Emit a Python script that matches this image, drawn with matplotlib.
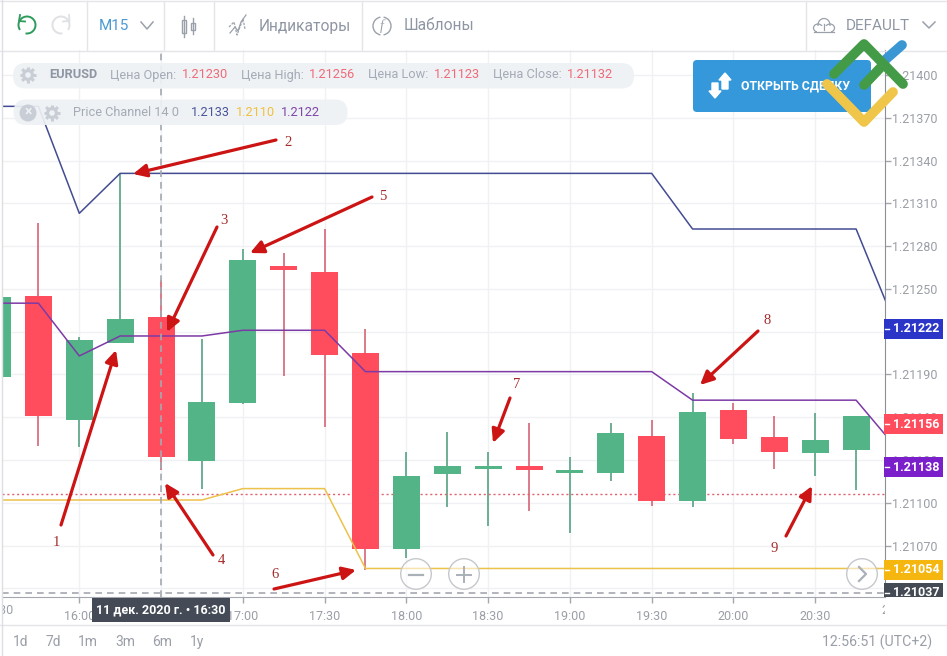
import math
import matplotlib
matplotlib.use('Agg')
import matplotlib.pyplot as plt
from matplotlib.patches import Rectangle, Circle, FancyBboxPatch, Arc, Polygon, Ellipse
from matplotlib.transforms import Bbox

plt.rcParams['font.family'] = ['Roboto', 'DejaVu Sans']

W, H = 947, 656

# bougies M15, EURUSD 11 dec 2020
candle_times = ['15:30', '15:45', '16:00', '16:15', '16:30', '16:45', '17:00', '17:15', '17:30', '17:45', '18:00',
                '18:15', '18:30', '18:45', '19:00', '19:15', '19:30', '19:45', '20:00', '20:15', '20:30', '20:45']
opens = [1.21188, 1.21245, 1.21158, 1.21212, 1.21230, 1.21129, 1.21170, 1.21266, 1.21262, 1.21205, 1.21068,
         1.21120, 1.21124, 1.21126, 1.21121, 1.21121, 1.21147, 1.21101, 1.21165, 1.21146, 1.21135, 1.21137]
highs = [1.21244, 1.21296, 1.21216, 1.21331, 1.21256, 1.21215, 1.21278, 1.21275, 1.21292, 1.21222, 1.21136,
         1.21150, 1.21136, 1.21156, 1.21132, 1.21156, 1.21158, 1.21177, 1.21170, 1.21161, 1.21163, 1.21161]
lows = [1.21188, 1.21140, 1.21139, 1.21212, 1.21123, 1.21110, 1.21169, 1.21189, 1.21153, 1.21053, 1.21061,
        1.21097, 1.21084, 1.21094, 1.21079, 1.21115, 1.21098, 1.21097, 1.21141, 1.21124, 1.21119, 1.21109]
closes = [1.21244, 1.21161, 1.21214, 1.21229, 1.21132, 1.21171, 1.21270, 1.21263, 1.21204, 1.21068, 1.21119,
          1.21126, 1.21126, 1.21123, 1.21123, 1.21149, 1.21101, 1.21164, 1.21145, 1.21136, 1.21144, 1.21161]

# price channel (derniere valeur = 21:00)
channel_times = candle_times + ['21:00']
channel_high = [1.21378, 1.21378, 1.21303, 1.21331, 1.21331, 1.21331, 1.21331, 1.21331, 1.21331, 1.21331, 1.21331, 1.21331,
                1.21331, 1.21331, 1.21331, 1.21331, 1.21331, 1.21292, 1.21292, 1.21292, 1.21292, 1.21292, 1.21222]
channel_mid = [1.21240, 1.21240, 1.21203, 1.21217, 1.21217, 1.21217, 1.21221, 1.21221, 1.21221, 1.21192, 1.21192, 1.21192,
               1.21192, 1.21192, 1.21192, 1.21192, 1.21192, 1.21172, 1.21172, 1.21172, 1.21172, 1.21172, 1.21138]
channel_low = [1.21102, 1.21102, 1.21102, 1.21102, 1.21102, 1.21102, 1.21110, 1.21110, 1.21110, 1.21054, 1.21054, 1.21054,
               1.21054, 1.21054, 1.21054, 1.21054, 1.21054, 1.21054, 1.21054, 1.21054, 1.21054, 1.21054, 1.21054]
current_price = 1.21106
cursor_price = 1.21037
cursor_time = '16:30'

y_ticks = [1.21400, 1.21370, 1.21340, 1.21310, 1.21280, 1.21250, 1.21220, 1.21190, 1.21160, 1.21130, 1.21100, 1.21070, 1.21040]
x_ticks = ['16:00', '16:30', '17:00', '17:30', '18:00', '18:30', '19:00', '19:30', '20:00', '20:30']

tag_prices = [1.21222, 1.21155, 1.21125, 1.21053, 1.21037]
tag_labels = ['1.21222', '1.21156', '1.21138', '1.21054', '1.21037']
tag_colors = ['#2b35c8', '#ff4d5e', '#7a1fc9', '#f4b60f', '#444b55']

ranges = ['1d', '7d', '1m', '3m', '6m', '1y']

GREEN, RED = '#52b487', '#ff4d5e'
GREY = '#8f96a3'
ICON = '#9ba1aa'


def minutes(t):
    h, m = t.split(':')
    return (int(h) - 16) * 60 + int(m)


def px_box(x0, y0, x1, y1):
    # boite en pixels (origine en haut) vers display
    return Bbox([[x0, H - y1], [x1, H - y0]])


fig = plt.figure(figsize=(W / 100, H / 100), dpi=100, facecolor='white')

# ---- graphique ----
ax = fig.add_axes([2 / W, 1 - 597 / H, 883 / W, 547 / H])
ax.set_xlim(-28.36, 295.6)
ax.set_ylim(1.21034, 1.214175)
ax.set_axisbelow(True)
ax.grid(True, color='#f0f1f4', lw=1)
for s in ['top', 'left']:
    ax.spines[s].set_visible(False)
ax.spines['right'].set_color('#8a8f98')
ax.spines['bottom'].set_color('#a4a8ae')
ax.yaxis.tick_right()
ax.set_yticks(y_ticks)
ax.set_yticklabels([f'{v:.5f}' for v in y_ticks])
ax.set_xticks([minutes(t) for t in x_ticks])
ax.set_xticklabels(x_ticks)
ax.tick_params(axis='y', length=4, width=1, color='#a4a8ae', labelcolor='#9a9ea6', labelsize=9, pad=1)
ax.tick_params(axis='x', length=4, width=1, color='#a4a8ae', labelcolor='#9a9ea6', labelsize=9, pad=5)

# labels coupes aux deux bords de l'axe
for t in ['15:30', '21:00']:
    lbl = ax.text(minutes(t), 1.21034 - 0.00005, t, ha='center', va='top', fontsize=9, color='#9a9ea6',
                  clip_on=True)
    lbl.set_clip_box(px_box(2, 597, 885, 625))

for t, o, h, l, c in zip(candle_times, opens, highs, lows, closes):
    x = minutes(t)
    up = c >= o
    ax.vlines(x, l, h, color='#62a88c' if up else '#d8707f', lw=1.3, zorder=2)
    ax.bar(x, abs(c - o), bottom=min(o, c), width=9.9, color=GREEN if up else RED, zorder=3)

ch_x = [minutes(t) for t in channel_times]
ax.plot(ch_x, channel_low, color='#ecc24a', lw=1.1, zorder=4)
ax.plot(ch_x, channel_high, color='#434c92', lw=1.1, zorder=4)
ax.plot(ch_x, channel_mid, color='#7c3aa6', lw=1.1, zorder=4)
ax.axhline(current_price, color='#e2606c', lw=1, ls=(0, (1.5, 2)), zorder=2.5)
ax.axvline(minutes(cursor_time), color='#a4a9b0', lw=1.2, ls=(0, (4, 3)), zorder=5)
ax.axhline(cursor_price, color='#a4a9b0', lw=1.2, ls=(0, (4, 3)), zorder=5)

# etiquettes de prix
tr = ax.get_yaxis_transform()
tag_h = 0.00014
for p, s, col in zip(tag_prices, tag_labels, tag_colors):
    r = Rectangle((1 - 1.5 / 883, p - tag_h / 2), 59 / 883, tag_h, transform=tr, facecolor=col, edgecolor='none',
                  clip_on=True, zorder=6)
    ax.add_patch(r)
    r.set_clip_box(px_box(883, 50, 947, 597))
    tx = ax.text(1 + 7.5 / 883, p, s, transform=tr, va='center', ha='left', color='white', fontsize=9,
                 fontweight='bold', zorder=7, clip_on=True)
    tx.set_clip_box(px_box(883, 50, 947, 597))
    ax.plot([1.0, 1 + 4 / 883], [p, p], transform=tr, color='white', lw=1, zorder=7, clip_on=False)

# ---- couche en pixels: barre d'outils, legendes, fleches ----
ui = fig.add_axes([0, 0, 1, 1], facecolor='none')
ui.set_xlim(0, W)
ui.set_ylim(H, 0)
ui.axis('off')


def label(x, y, s, color=GREY, size=9, weight='normal', ha='left', **kw):
    return ui.text(x, y, s, color=color, fontsize=size, fontweight=weight, ha=ha, va='center', **kw)


# cadre et barre du haut
ui.plot([0, W], [1, 1], color='#e3e5e8', lw=1)
ui.plot([0, W], [50.5, 50.5], color='#e3e5e8', lw=1)
ui.plot([0, W], [625, 625], color='#e3e5e8', lw=1)
ui.plot([1.5, 1.5], [0, H], color='#dcdfe3', lw=1)
for x in [87, 164, 214, 361.5, 805.5]:
    ui.plot([x, x], [1, 50], color='#e3e5e8', lw=1)

# annuler / retablir
ui.add_patch(Arc((27, 25), 17, 17, theta1=-215, theta2=100, color='#2e9a5c', lw=1.4))
ui.plot([20, 19, 25], [15, 21, 21.5], color='#2e9a5c', lw=1.3)
ui.add_patch(Arc((61, 25), 17, 17, theta1=80, theta2=395, color='#dfe1e4', lw=1.4))
ui.plot([69, 69.5, 63], [15, 21, 21.5], color='#dfe1e4', lw=1.3)

label(99, 26, 'M15', color='#4a9ad4', size=11)
ui.plot([141, 147, 153], [22, 29, 22], color=ICON, lw=1.1)

# icone bougies
ui.add_patch(Rectangle((181.5, 20), 4, 13, fill=False, edgecolor=ICON, lw=1))
ui.plot([183.5, 183.5], [16, 37], color=ICON, lw=1)
ui.add_patch(Rectangle((191, 23), 4, 7, fill=False, edgecolor=ICON, lw=1))
ui.plot([193, 193], [18, 34], color=ICON, lw=1)

# icone indicateurs
ui.plot([229, 234, 237, 243, 245], [27, 22, 35, 19, 29], color=ICON, lw=0.9, ls=(0, (2, 1)))
ui.plot([230, 235, 238, 241, 246], [33, 27, 31, 22, 15], color=ICON, lw=0.9)
label(259, 26, 'Индикаторы', size=11.2)

# icone f
ui.add_patch(Arc((382, 26), 18, 18, theta1=100, theta2=260, color=ICON, lw=1))
ui.add_patch(Arc((382, 26), 18, 18, theta1=-80, theta2=80, color=ICON, lw=1))
ui.text(382, 26, 'f', color=ICON, fontsize=10, ha='center', va='center', style='italic', family='Liberation Serif')
label(404, 26, 'Шаблоны', size=11.2)

# nuage + DEFAULT
for cx, cy, w, h in [(818, 28, 9, 8), (824, 25, 12, 13), (830, 28, 9, 8)]:
    ui.add_patch(Ellipse((cx, cy), w, h, fill=False, edgecolor=ICON, lw=0.9))
ui.add_patch(Rectangle((817, 25.5), 14, 6, facecolor='white', edgecolor='none'))
ui.plot([814, 834], [32, 32], color=ICON, lw=0.9)
ui.plot([824, 824], [24, 30], color=ICON, lw=0.9)
label(846, 26, 'DEFAULT', size=11)
ui.plot([923, 929, 935], [22, 28, 22], color=ICON, lw=1.1)


def gear(x, y, color='#c9ced6'):
    ui.add_patch(Circle((x, y), 6, facecolor=color, edgecolor='none', zorder=11))
    for k in range(8):
        a = k * math.pi / 4
        ui.plot([x + 5 * math.cos(a), x + 8.3 * math.cos(a)], [y + 5 * math.sin(a), y + 8.3 * math.sin(a)],
                color=color, lw=2.2, solid_capstyle='butt', zorder=11)
    ui.add_patch(Circle((x, y), 2.8, facecolor='#eef1f5', edgecolor='none', zorder=12))


# legendes
ui.add_patch(FancyBboxPatch((25.5, 75.5), 596, 0.5, boxstyle='round,pad=12.5,rounding_size=12.5',
                            facecolor='#eef1f5', edgecolor='none', alpha=0.92, zorder=10))
ui.add_patch(FancyBboxPatch((26, 112), 309, 0.5, boxstyle='round,pad=12.5,rounding_size=12.5',
                            facecolor='#eef1f5', edgecolor='none', alpha=0.92, zorder=10))
gear(28, 75)
ui.add_patch(Circle((28, 113), 8.5, facecolor='#c9ced6', edgecolor='none', zorder=11))
ui.text(28, 112.5, '×', color='#eef1f5', fontsize=10, fontweight='bold', ha='center', va='center', zorder=12)
gear(52, 113)

legend_red = '#ee6a78'
for x, s, col, wgt in [(49, 'EURUSD', GREY, 'bold'), (110, 'Цена Open:', '#a4abb6', 'normal'),
                       (182, '1.21230', legend_red, 'normal'), (241, 'Цена High:', '#a4abb6', 'normal'),
                       (309, '1.21256', legend_red, 'normal'), (368, 'Цена Low:', '#a4abb6', 'normal'),
                       (434, '1.21123', legend_red, 'normal'), (493, 'Цена Close:', '#a4abb6', 'normal'),
                       (567, '1.21132', legend_red, 'normal')]:
    label(x, 75, s, color=col, size=9.2, weight=wgt, zorder=13)
for x, s, col in [(73, 'Price Channel 14 0', '#a4abb6'), (191, '1.2133', '#4a5599'),
                  (236, '1.2110', '#efc13c'), (281, '1.2122', '#7f45a8')]:
    label(x, 113, s, color=col, size=9.2, zorder=13)

# bouton
ui.add_patch(FancyBboxPatch((697, 64), 170, 44, boxstyle='round,pad=4,rounding_size=4', facecolor='#3498db',
                            edgecolor='none', zorder=14))
ui.add_patch(Polygon([[722, 89], [722, 80], [719, 80], [725, 73], [731, 80], [728, 80], [728, 89]], color='white', zorder=15))
ui.add_patch(Polygon([[712, 83], [712, 91], [709, 91], [715, 98], [721, 91], [718, 91], [718, 83]], color='white', zorder=15))
label(741, 86, 'ОТКРЫТЬ СДЕЛКУ', color='white', size=8.8, weight='bold', zorder=15)

# logo
ui.plot([885, 902], [60, 45], color='#3b97d3', lw=7, solid_capstyle='round', zorder=16)
ui.plot([834, 864, 903], [74, 44, 84], color='#449b47', lw=7, solid_capstyle='round', solid_joinstyle='round', zorder=17)
ui.plot([864, 883], [85, 65], color='#449b47', lw=7, solid_capstyle='round', zorder=17)
ui.plot([827, 864, 893], [84, 122, 92], color='#f0c64a', lw=7, solid_capstyle='round', solid_joinstyle='round', zorder=18)

# boutons zoom / suivant
for cx, cy in [(416, 574), (464, 574), (862, 574)]:
    ui.add_patch(Circle((cx, cy), 15.3, facecolor='white', alpha=0.55, edgecolor='none', zorder=8))
    ui.add_patch(Circle((cx, cy), 15.3, fill=False, edgecolor='#c5c8cc', lw=1, zorder=8))
ui.plot([409, 423], [574.5, 574.5], color='#aab0b8', lw=1.6, zorder=9)
ui.plot([457, 471], [574.5, 574.5], color='#aab0b8', lw=1.4, zorder=9)
ui.plot([464, 464], [567, 582], color='#aab0b8', lw=1.4, zorder=9)
ui.plot([859, 866, 859], [567, 574, 581], color='#aab0b8', lw=1.6, zorder=9)

# infobulle date
ui.add_patch(Rectangle((92, 598), 138, 24, facecolor='#444b57', edgecolor='none', zorder=9))
ui.text(161, 610, '11 дек. 2020 г. • 16:30', color='white', fontsize=9, fontweight='bold', ha='center', va='center', zorder=10)

# bas de page
for x, s in zip([13, 46, 78, 115, 152, 190], ranges):
    label(x, 642, s, color='#9a9ea6', size=10)
label(932, 642, '12:56:51 (UTC+2)', color='#9a9ea6', size=10.2, ha='right')

# fleches rouges numerotees
arrows = [((61, 525), (116, 350), '1', (56, 543)), ((276, 140), (133, 174), '2', (288, 143)),
          ((217, 227), (167, 332), '3', (224, 220)), ((213, 555), (165, 483), '4', (221, 560)),
          ((372, 197), (250, 253), '5', (383, 196)), ((274, 589), (356, 570), '6', (275, 575)),
          ((510, 398), (493, 443), '7', (517, 385)), ((758, 331), (700, 385), '8', (767, 320)),
          ((786, 536), (812, 486), '9', (774, 549))]
for tail, head, num, pos in arrows:
    ui.annotate('', xy=head, xytext=tail, zorder=20,
                arrowprops=dict(arrowstyle='-|>,head_length=0.5,head_width=0.24', color='#cc1414', lw=2.3,
                                mutation_scale=16, shrinkA=0, shrinkB=0))
    ui.text(pos[0], pos[1], num, color='#a52a2a', fontsize=10.5, ha='center', va='center',
            family='Liberation Serif', zorder=20)

fig.savefig('out.png', dpi=100)
